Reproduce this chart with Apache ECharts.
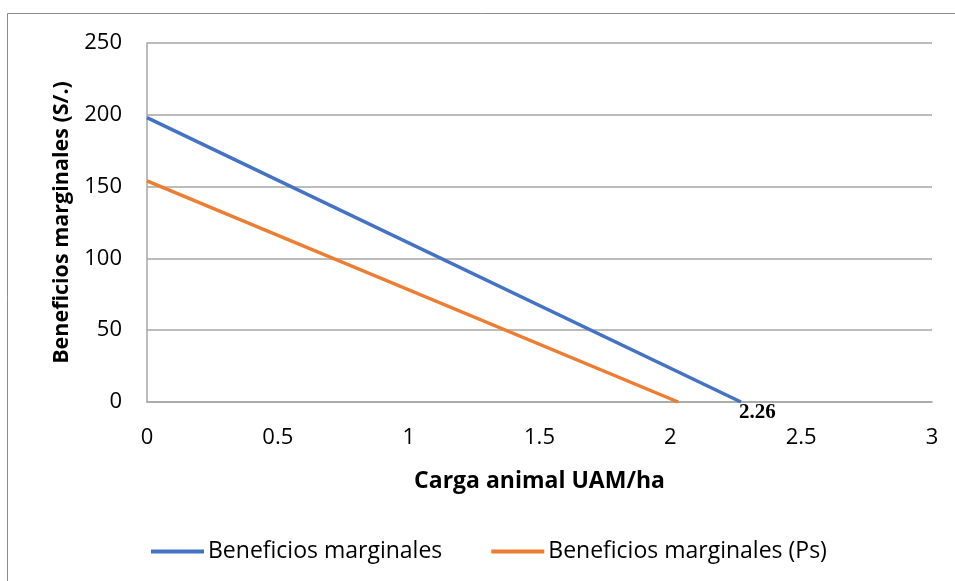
<!DOCTYPE html>
<html>
<head>
<meta charset="utf-8">
<script src="https://cdn.jsdelivr.net/npm/echarts@6/dist/echarts.min.js"></script>
<style>
  html, body { margin: 0; padding: 0; background: #fff; }
  #chart { width: 955px; height: 581px; }
</style>
</head>
<body>
<div id="chart"></div>
<script>
// datos
var seriesNames = ['Beneficios marginales', 'Beneficios marginales (Ps)'];
var xBlue = [0, 2.27];
var yBlue = [198, 0];
var xOrange = [0, 2.03];
var yOrange = [154, 0];
var xTicks = [0, 0.5, 1, 1.5, 2, 2.5, 3];
var yTicks = [0, 50, 100, 150, 200, 250];
var endLabel = '2.26';

var font = 'Open Sans';

function pairs(xs, ys) {
    return xs.map(function (x, i) { return [x, ys[i]]; });
}

var chart = echarts.init(document.getElementById('chart'));

var option = {
    animation: false,
    graphic: [{
        type: 'rect',
        shape: { x: 7.5, y: 13.5, width: 1000, height: 700 },
        style: { fill: 'none', stroke: '#8c8c8c', lineWidth: 1 },
        silent: true,
        z: -10
    }],
    grid: { left: 147, right: 23, top: 43, bottom: 179 },
    legend: {
        data: seriesNames,
        left: 146,
        top: 535,
        icon: 'rect',
        itemWidth: 53,
        itemHeight: 4,
        itemGap: 49,
        textStyle: { fontFamily: font, fontSize: 23, color: '#000', padding: [0, 0, 0, -1] }
    },
    xAxis: {
        type: 'value',
        min: xTicks[0],
        max: xTicks[xTicks.length - 1],
        interval: 0.5,
        name: 'Carga animal UAM/ha',
        nameLocation: 'middle',
        nameGap: 68,
        nameTextStyle: { fontFamily: font, fontSize: 23, fontWeight: 'bold', color: '#000' },
        axisLine: { show: true, lineStyle: { color: '#a6a6a6', width: 1.5 } },
        axisTick: { show: false },
        splitLine: { show: false },
        axisLabel: { fontFamily: font, fontSize: 22, color: '#000', margin: 25 }
    },
    yAxis: {
        type: 'value',
        min: yTicks[0],
        max: yTicks[yTicks.length - 1],
        interval: 50,
        name: 'Beneficios marginales (S/.)',
        nameLocation: 'middle',
        nameGap: 74,
        nameTextStyle: { fontFamily: font, fontSize: 21.5, fontWeight: 'bold', color: '#000' },
        axisLine: { show: true, lineStyle: { color: '#a6a6a6', width: 1.5 } },
        axisTick: { show: false },
        splitLine: { show: true, lineStyle: { color: '#a6a6a6', width: 1.5 } },
        axisLabel: { fontFamily: font, fontSize: 22, color: '#000', margin: 25 }
    },
    series: [{
        name: seriesNames[0],
        type: 'line',
        data: pairs(xBlue, yBlue),
        symbol: 'none',
        lineStyle: { color: '#4472c4', width: 3.5 },
        itemStyle: { color: '#4472c4' },
        endLabel: {
            show: true,
            formatter: endLabel,
            distance: 0,
            offset: [-2, 11],
            fontFamily: 'Liberation Serif',
            fontWeight: 'bold',
            fontSize: 21,
            color: '#000'
        }
    }, {
        name: seriesNames[1],
        type: 'line',
        data: pairs(xOrange, yOrange),
        symbol: 'none',
        lineStyle: { color: '#ed7d31', width: 3.5 },
        itemStyle: { color: '#ed7d31' }
    }]
};

chart.setOption(option);
</script>
</body>
</html>
